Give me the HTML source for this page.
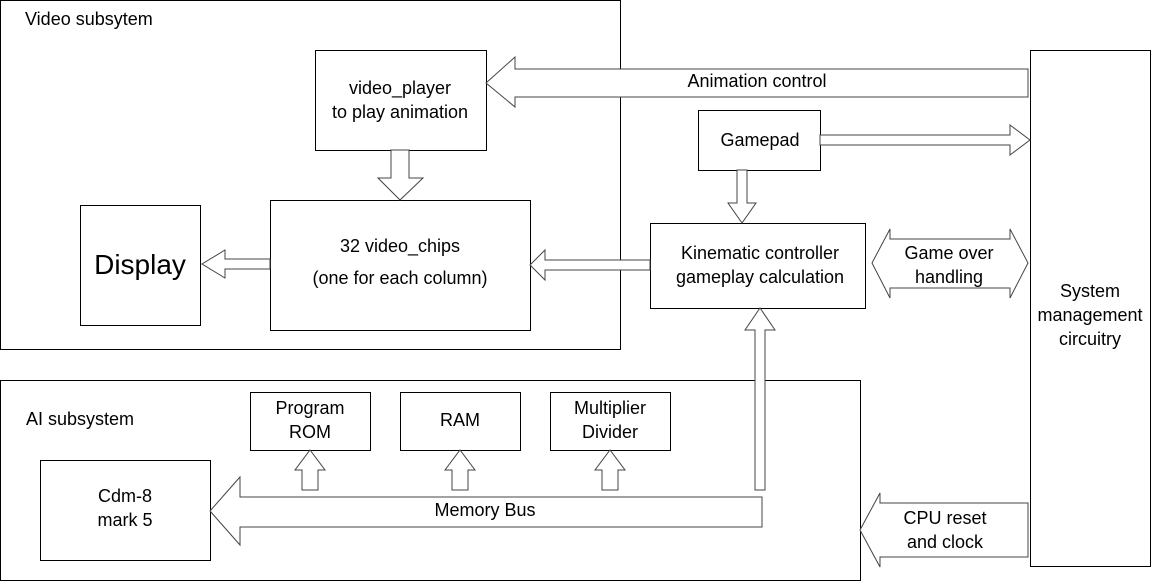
<!DOCTYPE html>
<html><head><style>
body{margin:0;background:#fff}
svg{display:block}
text{font-family:"Liberation Sans",sans-serif;font-size:18px;fill:#000}
</style></head><body>
<svg width="1151" height="581" viewBox="0 0 1151 581">
<g fill="none" stroke="#000" stroke-width="1">
<rect x="0.5" y="0.5" width="620" height="349"/>
<rect x="0.5" y="380.5" width="860" height="200"/>
<rect x="1030.5" y="50.5" width="120" height="516"/>
<rect x="315.5" y="50.5" width="171" height="100"/>
<rect x="270.5" y="200.5" width="260" height="130"/>
<rect x="80.5" y="205.5" width="120" height="120"/>
<rect x="698.5" y="110.5" width="122" height="60"/>
<rect x="650.5" y="223.5" width="215" height="85"/>
<rect x="250.5" y="392.5" width="120" height="58"/>
<rect x="400.5" y="392.5" width="120" height="58"/>
<rect x="550.5" y="392.5" width="120" height="58"/>
<rect x="40.5" y="460.5" width="170" height="100"/>
</g>
<g fill="#fff" stroke="#444" stroke-width="1">
<polygon points="1028,69 515,69 515,57 486,83 515,107 515,97 1028,97"/>
<polygon points="820,135 1010,135 1010,125 1030,140 1010,155 1010,145 820,145"/>
<polygon points="737,170 747,170 747,203 756,203 742,223 728,203 737,203"/>
<polygon points="650,260 545,260 545,250 530,265 545,280 545,270 650,270"/>
<polygon points="391,150 409,150 409,178 423,178 400,200 378,178 391,178"/>
<polygon points="270,259 225,259 225,250 202,264 225,278 225,269 270,269"/>
<polygon points="872,263 890,229 890,239 1010,239 1010,229 1028,263 1010,298 1010,288 890,288 890,298"/>
<polygon points="755,490 755,330 745,330 760,308 775,330 765,330 765,490"/>
<polygon points="762,497 240,497 240,477 210,511 240,545 240,527 762,527"/>
<polygon points="302,490 302,470 295,470 310,450 325,470 318,470 318,490"/>
<polygon points="452,490 452,470 445,470 460,450 475,470 468,470 468,490"/>
<polygon points="602,490 602,470 595,470 610,450 625,470 618,470 618,490"/>
<polygon points="1028,503 880,503 880,493 860,530 880,567 880,557 1028,557"/>
</g>
<text x="25" y="25">Video subsytem</text>
<text x="400" y="94" text-anchor="middle">video_player</text>
<text x="400" y="118" text-anchor="middle">to play animation</text>
<text x="400" y="252" text-anchor="middle">32 video_chips</text>
<text x="400" y="284" text-anchor="middle">(one for each column)</text>
<text x="140" y="274" text-anchor="middle" style="font-size:28px">Display</text>
<text x="757" y="87" text-anchor="middle">Animation control</text>
<text x="760" y="146" text-anchor="middle">Gamepad</text>
<text x="760" y="259" text-anchor="middle">Kinematic controller</text>
<text x="760" y="283" text-anchor="middle">gameplay calculation</text>
<text x="949" y="259" text-anchor="middle">Game over</text>
<text x="949" y="283" text-anchor="middle">handling</text>
<text x="1090" y="297" text-anchor="middle">System</text>
<text x="1090" y="321" text-anchor="middle">management</text>
<text x="1090" y="345" text-anchor="middle">circuitry</text>
<text x="26" y="425">AI subsystem</text>
<text x="310" y="414" text-anchor="middle">Program</text>
<text x="310" y="438" text-anchor="middle">ROM</text>
<text x="460" y="426" text-anchor="middle">RAM</text>
<text x="610" y="414" text-anchor="middle">Multiplier</text>
<text x="610" y="438" text-anchor="middle">Divider</text>
<text x="125" y="502" text-anchor="middle">Cdm-8</text>
<text x="125" y="526" text-anchor="middle">mark 5</text>
<text x="485" y="516" text-anchor="middle">Memory Bus</text>
<text x="945" y="524" text-anchor="middle">CPU reset</text>
<text x="945" y="548" text-anchor="middle">and clock</text>
</svg>
</body></html>
